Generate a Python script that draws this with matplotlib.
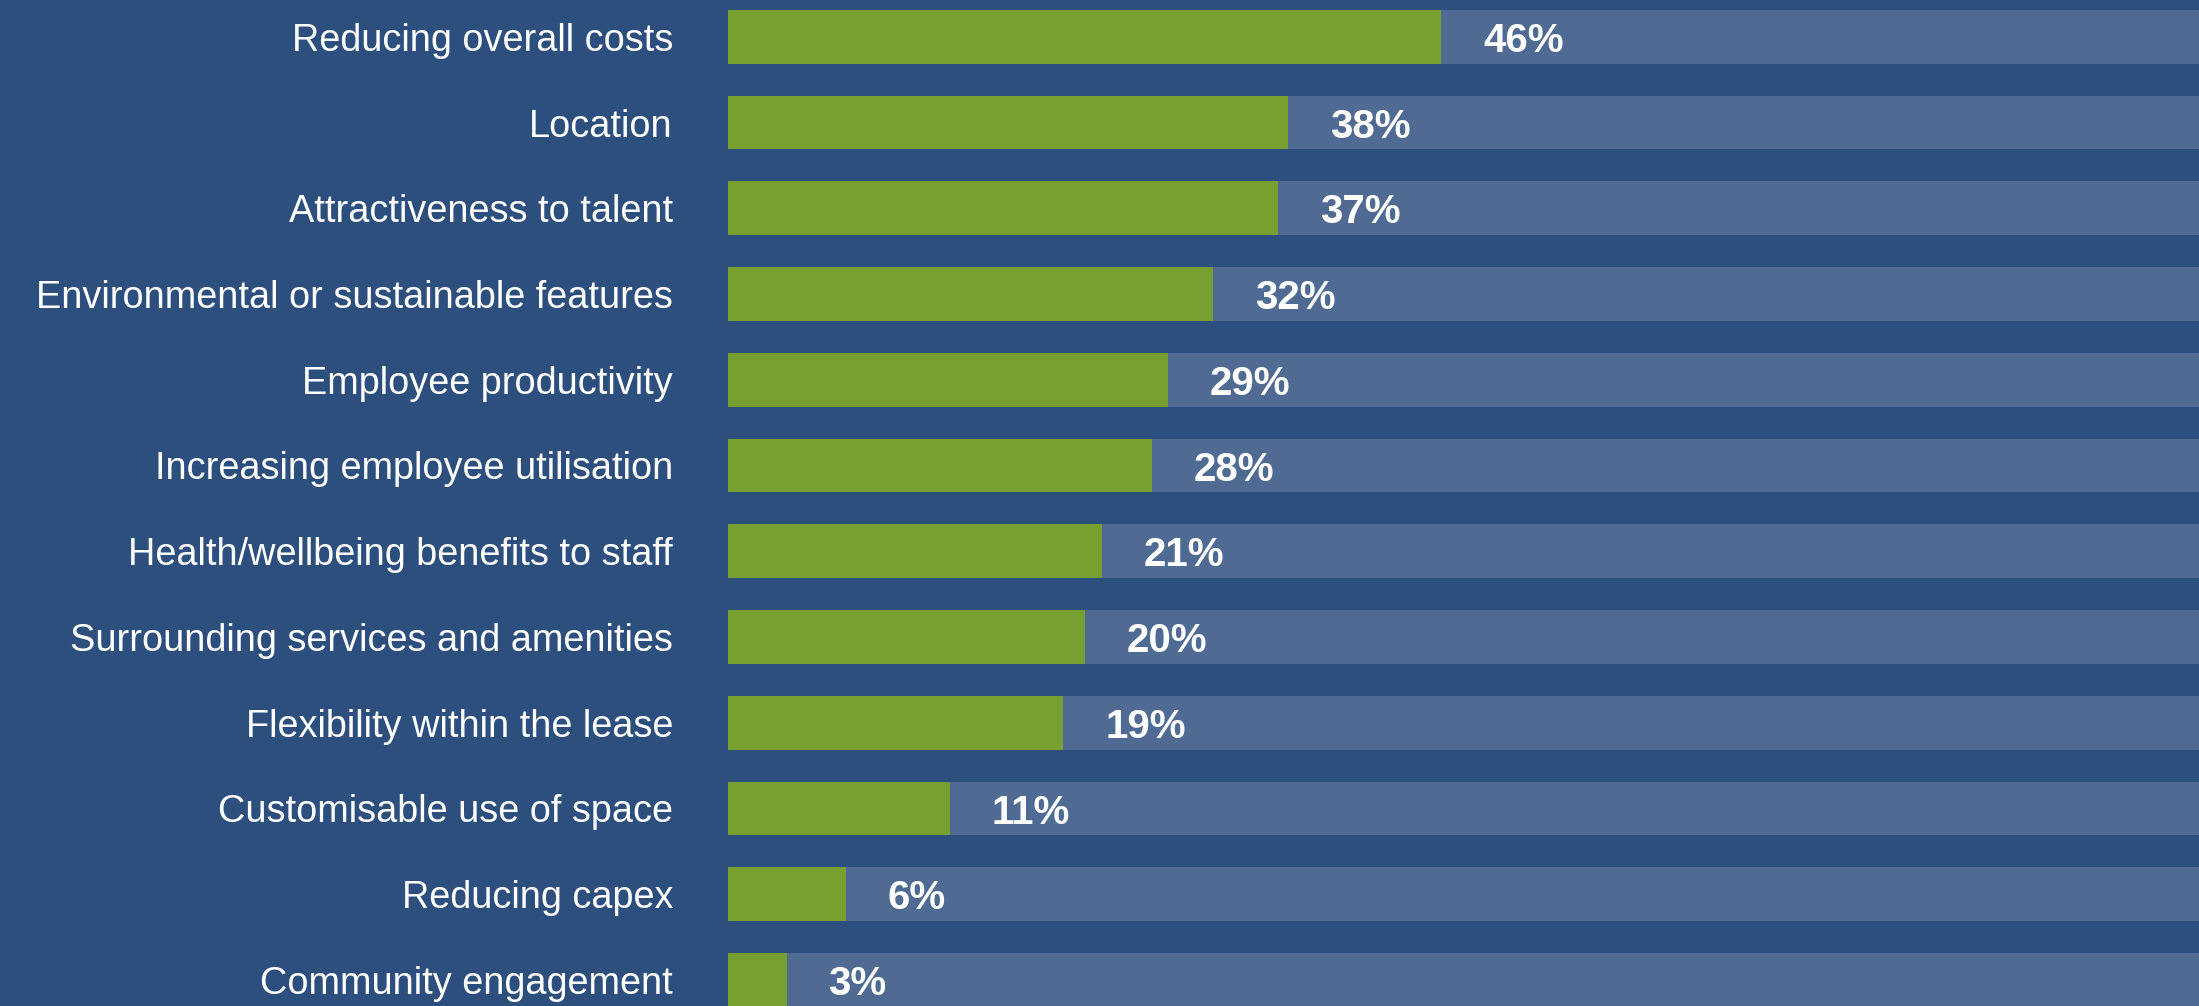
import numpy as np
import matplotlib.pyplot as plt

# categories, top to bottom
kategorie = [
    'Reducing overall costs',
    'Location',
    'Attractiveness to talent',
    'Environmental or sustainable features',
    'Employee productivity',
    'Increasing employee utilisation',
    'Health/wellbeing benefits to staff',
    'Surrounding services and amenities',
    'Flexibility within the lease',
    'Customisable use of space',
    'Reducing capex',
    'Community engagement',
]

# printed percentages
procenty = [46, 38, 37, 32, 29, 28, 21, 20, 19, 11, 6, 3]

# green fill as share of the full track (read off the picture, not proportional to labels)
wypelnienie = [48.5, 38.1, 37.4, 33.0, 29.9, 28.8, 25.4, 24.3, 22.8, 15.1, 8.0, 4.0]

TLO = '#2c4f7e'
TOR = '#4f6b94'
ZIELONY = '#77a030'

plt.rcParams['font.family'] = ['Liberation Sans', 'DejaVu Sans']

W, H = 2199, 1006
fig = plt.figure(figsize=(W / 100, H / 100), dpi=100, facecolor=TLO)
lewa = 728 / W
ax = fig.add_axes([lewa, 0, 1 - lewa, 1])
ax.set_facecolor(TLO)

y = np.arange(len(kategorie))
krok = 85.73
wys = 53.7 / krok

# light track across the whole width, then the green part
ax.barh(y, [100] * len(y), height=wys, color=TOR, left=0)
ax.barh(y, wypelnienie, height=wys, color=ZIELONY, left=0)

for i, (w, p) in enumerate(zip(wypelnienie, procenty)):
    ax.annotate(f'{p}%', xy=(w, i), xytext=(30, -3), textcoords='offset points',
                va='center', ha='left', color='white', fontsize=29, fontweight='bold')

ax.set_xlim(0, 100)
ax.set_ylim(len(y) - 1 + 26.15 / krok, -36.85 / krok)
ax.set_yticks(y)
ax.set_yticklabels(kategorie, fontsize=27.3, color='white')
ax.tick_params(axis='y', length=0, pad=39.6)
ax.tick_params(axis='x', bottom=False, labelbottom=False)
for s in ax.spines.values():
    s.set_visible(False)

fig.savefig('out.png', dpi=100, facecolor=TLO)
